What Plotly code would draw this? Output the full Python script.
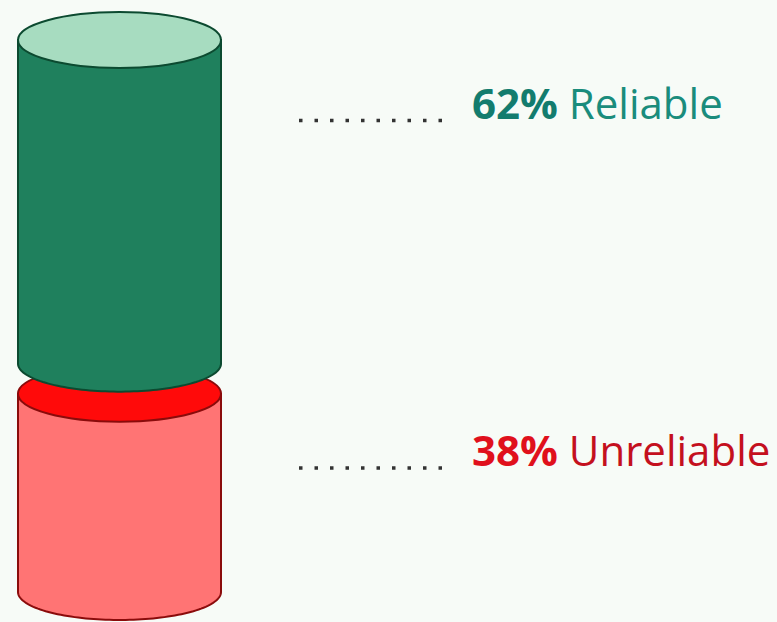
import numpy as np
import plotly.graph_objects as go

# ---- data ----
categories = ["Reliable", "Unreliable"]
percent = [62, 38]
value_labels = ["62%", "38%"]

# ---- styles ----
body_colors = {"Reliable": "#1f805d", "Unreliable": "#ff7474"}
top_colors = {"Reliable": "#a7dcc0", "Unreliable": "#ff0a0a"}
edge_colors = {"Reliable": "#0c4a30", "Unreliable": "#8a0b0b"}
num_colors = {"Reliable": "#137c6e", "Unreliable": "#e0101c"}
word_colors = {"Reliable": "#1a8c7c", "Unreliable": "#c4101e"}
label_drop = {"Reliable": 11.9, "Unreliable": 10.7}   # units below segment top

W, H = 777, 622
PPU = 552 / 105.75          # pixels per percentage unit
GAP = 5.75                  # gap between stacked segments (units)
CX, RX = 119.5, 101.5       # cylinder centre and half-width (x axis in px)
RY = 28 / PPU               # half-height of ellipses (units)

fig = go.Figure()
shapes = []
annotations = []

order = ["Unreliable", "Reliable"]
vals = dict(zip(categories, percent))
labs = dict(zip(categories, value_labels))
base = 0.0
segs = []
for c in order:
    b = base
    t = base + vals[c]
    segs.append((c, b, t))
    base = t + GAP

for c, b, t in segs:
    th = np.linspace(np.pi, 2 * np.pi, 80)
    xs = CX + RX * np.cos(th)
    ys = b + RY * np.sin(th)
    path = f"M {CX-RX},{t} L {CX-RX},{b} "
    path += " ".join(f"L {x:.3f},{y:.4f}" for x, y in zip(xs, ys))
    path += f" L {CX+RX},{t} Z"
    shapes.append(dict(type="path", path=path, xref="x", yref="y",
                       fillcolor=body_colors[c],
                       line=dict(color=edge_colors[c], width=2)))
    shapes.append(dict(type="circle", xref="x", yref="y",
                       x0=CX - RX, x1=CX + RX, y0=t - RY, y1=t + RY,
                       fillcolor=top_colors[c],
                       line=dict(color=edge_colors[c], width=2)))
    ly = t - label_drop[c]
    dot_y = ly - 18.5 / PPU
    shapes.append(dict(type="line", xref="x", yref="y",
                       x0=299, x1=443, y0=dot_y, y1=dot_y,
                       line=dict(color="#333333", width=3.5, dash="3.5px,12px")))
    annotations.append(dict(
        x=470, y=ly, xref="x", yref="y", xanchor="left", yanchor="middle",
        showarrow=False,
        text=f"<b><span style='color:{num_colors[c]}'>{labs[c]}</span></b>"
             f"<span style='color:{word_colors[c]}'> {c}</span>",
        font=dict(family="Open Sans", size=42, color=word_colors[c])))

fig.update_layout(
    width=W, height=H,
    margin=dict(l=0, r=0, t=0, b=0),
    paper_bgcolor="#f7fbf7", plot_bgcolor="#f7fbf7",
    shapes=shapes, annotations=annotations,
    showlegend=False,
    xaxis=dict(range=[0, W], visible=False, fixedrange=True),
    yaxis=dict(range=[-30 / PPU, 592 / PPU], visible=False, fixedrange=True),
)

fig.write_html(
    "out.html",
    config={"displayModeBar": False},
    post_script="document.body.style.margin='0';document.body.style.overflow='hidden';"
                "document.body.style.background='#f7fbf7';",
)
